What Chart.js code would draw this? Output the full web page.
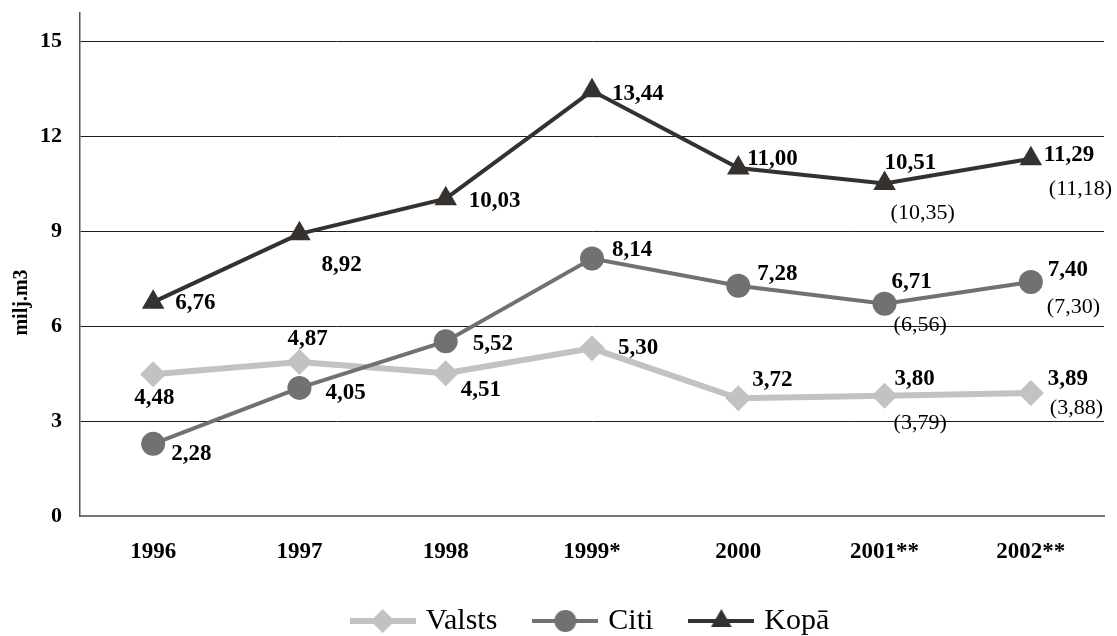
<!DOCTYPE html>
<html>
<head>
<meta charset="utf-8">
<script src="https://cdn.jsdelivr.net/npm/chart.js@4.4.1/dist/chart.umd.min.js"></script>
<style>
  html, body { margin: 0; padding: 0; background: #fff; }
</style>
</head>
<body>
<canvas id="chart" width="1117" height="636"></canvas>
<script>
const years = ['1996', '1997', '1998', '1999*', '2000', '2001**', '2002**'];
const valsts = [4.48, 4.87, 4.51, 5.30, 3.72, 3.80, 3.89];
const citi = [2.28, 4.05, 5.52, 8.14, 7.28, 6.71, 7.40];
const kopa = [6.76, 8.92, 10.03, 13.44, 11.00, 10.51, 11.29];
// values in brackets for 2001 and 2002
const valstsAlt = [null, null, null, null, null, 3.79, 3.88];
const citiAlt = [null, null, null, null, null, 6.56, 7.30];
const kopaAlt = [null, null, null, null, null, 10.35, 11.18];
const yTicks = [0, 3, 6, 9, 12, 15];

// where each value label sits relative to its point (left edge, middle)
const valstsPos = [[-19, 24], [-12, -23], [15, 17], [26, 0], [14, -18], [10, -17], [17, -14]];
const citiPos = [[18, 10], [26, 5], [27, 3], [20, -8], [19, -12], [7, -22], [17, -12]];
const kopaPos = [[22, 1], [22, 31], [23, 2], [20, 3], [9, -9], [0, -20], [13, -4]];
const valstsAltPos = [null, null, null, null, null, [9, 27], [19, 15]];
const citiAltPos = [null, null, null, null, null, [9, 21], [16, 25]];
const kopaAltPos = [null, null, null, null, null, [6, 30], [18, 30]];

const SERIF = '"Liberation Serif", "Times New Roman", serif';
const fmt = v => v.toFixed(2).replace('.', ',');

const series = [
  { label: 'Valsts', data: valsts, alt: valstsAlt, pos: valstsPos, altPos: valstsAltPos,
    color: '#c2c2c2', width: 6, style: 'rectRot', radius: 13, order: 3 },
  { label: 'Citi', data: citi, alt: citiAlt, pos: citiPos, altPos: citiAltPos,
    color: '#717171', width: 4, style: 'circle', radius: 12, order: 2 },
  { label: 'Kopā', data: kopa, alt: kopaAlt, pos: kopaPos, altPos: kopaAltPos,
    color: '#35312f', width: 4, style: 'triangle', radius: 13, order: 1 }
];

function legendIcon(s) {
  const c = document.createElement('canvas');
  c.width = 66;
  c.height = 30;
  const g = c.getContext('2d');
  g.strokeStyle = s.color;
  g.lineWidth = s.width;
  g.beginPath();
  g.moveTo(0, 15);
  g.lineTo(66, 15);
  g.stroke();
  g.fillStyle = s.color;
  Chart.helpers.drawPoint(g, { pointStyle: s.style, radius: s.radius - 1, rotation: 0, borderWidth: 0 }, 33, 15);
  return c;
}

const valueLabels = {
  id: 'valueLabels',
  afterLayout(chart) {
    // centre the legend under the plot area
    const lg = chart.legend, area = chart.chartArea;
    lg.left = area.left;
    lg.right = area.right;
    lg.top = 566;
    lg.bottom = chart.height;
  },
  afterDatasetsDraw(chart) {
    const ctx = chart.ctx;
    ctx.save();
    ctx.fillStyle = '#000';
    ctx.textAlign = 'left';
    ctx.textBaseline = 'middle';
    series.forEach((s, i) => {
      const meta = chart.getDatasetMeta(i);
      meta.data.forEach((pt, j) => {
        ctx.font = 'bold 23px ' + SERIF;
        ctx.fillText(fmt(s.data[j]), pt.x + s.pos[j][0], pt.y + s.pos[j][1]);
        if (s.alt[j] != null) {
          ctx.font = '22px ' + SERIF;
          ctx.fillText('(' + fmt(s.alt[j]) + ')', pt.x + s.altPos[j][0], pt.y + s.altPos[j][1]);
        }
      });
    });
    // y axis title
    const area = chart.chartArea;
    ctx.translate(22, (area.top + area.bottom) / 2 + 38);
    ctx.rotate(-Math.PI / 2);
    ctx.textAlign = 'center';
    ctx.font = 'bold 20px ' + SERIF;
    ctx.fillText('milj.m3', 0, 0);
    ctx.restore();
  }
};

new Chart(document.getElementById('chart'), {
  type: 'line',
  data: {
    labels: years,
    datasets: series.map(s => ({
      label: s.label,
      data: s.data,
      borderColor: s.color,
      backgroundColor: s.color,
      borderWidth: s.width,
      pointStyle: s.style,
      pointRadius: s.radius,
      pointHoverRadius: s.radius,
      pointBackgroundColor: s.color,
      pointBorderWidth: 0,
      tension: 0,
      fill: false,
      order: s.order,
      clip: false
    }))
  },
  options: {
    responsive: false,
    animation: false,
    layout: { padding: { top: 6, right: 7, left: 0, bottom: 0 } },
    plugins: {
      legend: {
        position: 'bottom',
        maxHeight: 60,
        labels: {
          usePointStyle: true,
          pointStyleWidth: 56,
          padding: 40,
          color: '#000',
          font: { family: SERIF, size: 30 },
          generateLabels: () => series.map((s, i) => ({
            text: s.label,
            pointStyle: legendIcon(s),
            fillStyle: s.color,
            strokeStyle: s.color,
            fontColor: '#000',
            lineWidth: 0,
            hidden: false,
            datasetIndex: i
          }))
        }
      },
      tooltip: { enabled: false },
      title: { display: false }
    },
    scales: {
      x: {
        offset: true,
        grid: { display: false, drawTicks: false, offset: true },
        border: { display: true, color: '#7a7672', width: 2 },
        ticks: { color: '#000', padding: 22, font: { family: SERIF, size: 23, weight: 'bold' } },
        afterFit: scale => {
          scale.height = 60;
          scale.paddingLeft = 0;
          scale.paddingRight = 0;
        }
      },
      y: {
        min: 0,
        max: 15.9,
        afterBuildTicks: scale => {
          scale.ticks = yTicks.map(v => ({ value: v }));
        },
        grid: {
          drawTicks: false,
          color: ctx => (ctx.tick && ctx.tick.value === 0 ? 'rgba(0,0,0,0)' : '#1e1e1e'),
          lineWidth: 1
        },
        border: { display: true, color: '#55514e', width: 1.5 },
        ticks: { color: '#000', padding: 18, font: { family: SERIF, size: 22, weight: 'bold' } },
        afterFit: scale => {
          scale.width = 80;
          scale.paddingTop = 0;
          scale.paddingBottom = 0;
        }
      }
    }
  },
  plugins: [valueLabels]
});
</script>
</body>
</html>
